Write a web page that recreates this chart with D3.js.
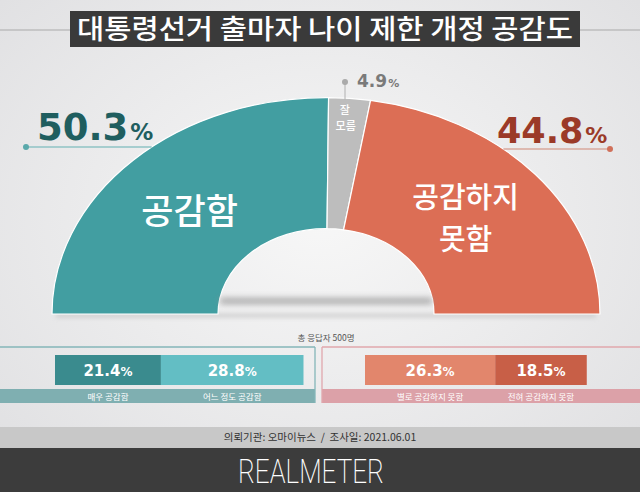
<!DOCTYPE html>
<html><head><meta charset="utf-8">
<script src="https://cdn.jsdelivr.net/npm/d3@7"></script>
<style>html,body{margin:0;padding:0;background:#ececec;}svg{display:block;}</style>
</head><body>
<script>
// ---- data ----
const titleText = "대통령선거 출마자 나이 제한 개정 공감도";
const mainCategories = ["공감함", "잘 모름", "공감하지 못함"];
const mainValues = [50.3, 4.9, 44.8];
const mainColors = ["#429ea1", "#bdbdbd", "#dc6e55"];
const agreeCategories = ["매우 공감함", "어느 정도 공감함"];
const agreeValues = [21.4, 28.8];
const agreeColors = ["#3a8b8e", "#63bec4"];
const disagreeCategories = ["별로 공감하지 못함", "전혀 공감하지 못함"];
const disagreeValues = [26.3, 18.5];
const disagreeColors = ["#e2866c", "#c85f47"];
const respondentNote = "총 응답자 500명";
const sourceNote = "의뢰기관: 오마이뉴스  /  조사일: 2021.06.01";
const brand = "REALMETER";

const W = 640, H = 492;
const svg = d3.select("body").append("svg").attr("width", W).attr("height", H);
const defs = svg.append("defs");
const rg = defs.append("radialGradient").attr("id", "bg").attr("cx", "50%").attr("cy", "45%").attr("r", "70%");
rg.append("stop").attr("offset", "0%").attr("stop-color", "#f7f7f7");
rg.append("stop").attr("offset", "100%").attr("stop-color", "#e0e0e2");
defs.append("filter").attr("id", "blur").attr("x", "-20%").attr("y", "-200%").attr("width", "140%").attr("height", "500%")
  .append("feGaussianBlur").attr("stdDeviation", 3);
defs.append("filter").attr("id", "blur2").attr("x", "-20%").attr("y", "-200%").attr("width", "140%").attr("height", "500%")
  .append("feGaussianBlur").attr("stdDeviation", 2);

svg.append("rect").attr("width", W).attr("height", H).attr("fill", "url(#bg)");

// ---- title ----
svg.append("line").attr("x1", 0).attr("x2", W).attr("y1", 30).attr("y2", 30).attr("stroke", "#a9a9a9").attr("stroke-width", 1.2);
svg.append("rect").attr("x", 70).attr("y", 11).attr("width", 510).attr("height", 36).attr("fill", "#3a3a3a");
svg.append("text").attr("x", 325).attr("y", 39).attr("text-anchor", "middle")
  .attr("font-family", "'Noto Sans CJK KR'").attr("font-size", 27).attr("font-weight", 500)
  .attr("fill", "#ffffff").attr("textLength", 496).attr("lengthAdjust", "spacingAndGlyphs").text(titleText);

// ---- half doughnut ----
const cx = 326, cy = 314, rOuter = 274, rInner = 108, yScale = 0.79;
const pie = d3.pie().sort(null).startAngle(-Math.PI / 2).endAngle(Math.PI / 2);
const arcs = pie(mainValues);
const arc = d3.arc().innerRadius(rInner).outerRadius(rOuter);

// floor shadow under the doughnut
svg.append("rect").attr("x", cx - rOuter + 4).attr("y", cy - 1).attr("width", 2 * rOuter - 8).attr("height", 5)
  .attr("fill", "#bbbbbb").attr("opacity", 0.5).attr("filter", "url(#blur2)");

const g = svg.append("g").attr("transform", `translate(${cx},${cy}) scale(1,${yScale})`);
g.selectAll("path").data(arcs).join("path")
  .attr("d", arc)
  .attr("fill", (d, i) => mainColors[i])
  .attr("stroke", "#ffffff").attr("stroke-width", 1.2).attr("vector-effect", "non-scaling-stroke");

// inner hole shadow
svg.append("rect").attr("x", cx - rInner + 2).attr("y", cy - 16).attr("width", 2 * rInner - 4).attr("height", 6)
  .attr("fill", "#8f8f8f").attr("opacity", 0.75).attr("filter", "url(#blur)");

function pt(angle, r) {
  return [cx + r * Math.sin(angle), cy - r * Math.cos(angle) * yScale];
}
function edgeXAtY(y, side) {
  const dy = (cy - y) / (rOuter * yScale);
  return cx + side * rOuter * Math.sqrt(1 - dy * dy);
}
const rMid = (rOuter + rInner) / 2;
const kr = "'Noto Sans CJK KR'";
const num = "'DejaVu Sans'";

// 공감함 label
const c0 = pt((arcs[0].startAngle + arcs[0].endAngle) / 2, rMid);
svg.append("text").attr("x", c0[0] - 2).attr("y", c0[1] + 17).attr("text-anchor", "middle")
  .attr("font-family", kr).attr("font-size", 35).attr("font-weight", 500).attr("fill", "#fff").text(mainCategories[0]);

// 공감하지 못함 label (two lines)
const c2 = pt((arcs[2].startAngle + arcs[2].endAngle) / 2, rMid);
svg.append("text").attr("x", c2[0] - 6).attr("y", c2[1] - 8).attr("text-anchor", "middle").attr("font-family", kr)
  .attr("font-size", 29).attr("font-weight", 500).attr("fill", "#fff").text("공감하지");
svg.append("text").attr("x", c2[0] - 6).attr("y", c2[1] + 34).attr("text-anchor", "middle").attr("font-family", kr)
  .attr("font-size", 29).attr("font-weight", 500).attr("fill", "#fff").text("못함");

// 잘 모름 label (two lines)
const c1 = pt((arcs[1].startAngle + arcs[1].endAngle) / 2, rOuter - 22);
svg.append("text").attr("x", c1[0] - 3).attr("y", c1[1] - 2).attr("text-anchor", "middle").attr("font-family", kr)
  .attr("font-size", 11).attr("font-weight", 500).attr("fill", "#fff").text("잘");
svg.append("text").attr("x", c1[0] - 2).attr("y", c1[1] + 14.5).attr("text-anchor", "middle").attr("font-family", kr)
  .attr("font-size", 11).attr("font-weight", 500).attr("fill", "#fff").text("모름");

// 50.3% callout
const yL = 147;
svg.append("line").attr("x1", 26).attr("x2", edgeXAtY(yL, -1)).attr("y1", yL).attr("y2", yL).attr("stroke", "#8fc3c5").attr("stroke-width", 1.3);
svg.append("circle").attr("cx", 26).attr("cy", yL).attr("r", 3).attr("fill", "#5aa9ab");
const l0 = svg.append("text").attr("x", 37).attr("y", 140).attr("font-family", num).attr("font-weight", "bold").attr("fill", "#1f5e5f");
l0.append("tspan").attr("font-size", 37).text(d3.format(".1f")(mainValues[0]));
l0.append("tspan").attr("font-size", 23).attr("dx", 2).text("%");

// 44.8% callout
const yR = 149;
svg.append("line").attr("x1", edgeXAtY(yR, 1)).attr("x2", 610).attr("y1", yR).attr("y2", yR).attr("stroke", "#d8a89d").attr("stroke-width", 1.3);
svg.append("circle").attr("cx", 610).attr("cy", yR).attr("r", 3).attr("fill", "#d0705a");
const l2 = svg.append("text").attr("x", 497).attr("y", 143).attr("font-family", num).attr("font-weight", "bold").attr("fill", "#9b3a28");
l2.append("tspan").attr("font-size", 35).text(d3.format(".1f")(mainValues[2]));
l2.append("tspan").attr("font-size", 22).attr("dx", 2).text("%");

// 4.9% callout
const topY = cy - rOuter * yScale;
svg.append("line").attr("x1", 345).attr("x2", 345).attr("y1", 82).attr("y2", topY + 2).attr("stroke", "#b0b0b0").attr("stroke-width", 1);
svg.append("circle").attr("cx", 345).attr("cy", 82).attr("r", 3).attr("fill", "#aaaaaa");
const l1 = svg.append("text").attr("x", 357).attr("y", 87).attr("font-family", num).attr("font-weight", "bold").attr("fill", "#7a7a7a");
l1.append("tspan").attr("font-size", 17).text(d3.format(".1f")(mainValues[1]));
l1.append("tspan").attr("font-size", 11).attr("dx", 1).text("%");

// respondents note
svg.append("text").attr("x", 326).attr("y", 341).attr("text-anchor", "middle").attr("font-family", kr)
  .attr("font-size", 8.5).attr("fill", "#555").text(respondentNote);

// ---- bottom breakdown bars ----
const pxScale = d3.scaleLinear().domain([0, 100]).range([0, 495]);
const barY = 355, barH = 30, bandY = 389, bandH = 14;

function panel(x0, x1, innerSide, borderColor, bandColor) {
  svg.append("rect").attr("x", x0).attr("y", bandY).attr("width", x1 - x0).attr("height", bandH).attr("fill", bandColor);
  svg.append("line").attr("x1", x0).attr("x2", x1).attr("y1", 347).attr("y2", 347).attr("stroke", borderColor).attr("stroke-width", 1.3);
  const vx = innerSide === "right" ? x1 : x0;
  svg.append("line").attr("x1", vx).attr("x2", vx).attr("y1", 347).attr("y2", bandY + bandH).attr("stroke", borderColor).attr("stroke-width", 1.3);
}
panel(0, 315, "right", "#84b6b8", "#7fafb1");
panel(322, 640, "left", "#e1a7ad", "#dca1a8");

function bars(startX, values, cats, colors) {
  let acc = 0;
  values.forEach((v, i) => {
    const x = startX + pxScale(acc), w = pxScale(v);
    svg.append("rect").attr("x", x).attr("y", barY).attr("width", w).attr("height", barH).attr("fill", colors[i]);
    const t = svg.append("text").attr("x", x + w / 2).attr("y", barY + 21).attr("text-anchor", "middle")
      .attr("font-family", num).attr("font-weight", "bold").attr("fill", "#fff");
    t.append("tspan").attr("font-size", 15).text(d3.format(".1f")(v));
    t.append("tspan").attr("font-size", 12).text("%");
    svg.append("text").attr("x", x + w / 2).attr("y", bandY + 10.5).attr("text-anchor", "middle")
      .attr("font-family", kr).attr("font-size", 8.5).attr("fill", "#fff").text(cats[i]);
    acc += v;
  });
}
bars(55, agreeValues, agreeCategories, agreeColors);
bars(365, disagreeValues, disagreeCategories, disagreeColors);

// ---- footer ----
svg.append("rect").attr("x", 0).attr("y", 427).attr("width", W).attr("height", 21).attr("fill", "#c8c8c8");
svg.append("text").attr("x", 320).attr("y", 441).attr("text-anchor", "middle").attr("font-family", kr)
  .attr("font-size", 10.5).attr("fill", "#333").attr("xml:space", "preserve").text(sourceNote);
svg.append("rect").attr("x", 0).attr("y", 448).attr("width", W).attr("height", H - 448).attr("fill", "#3c3c3c");
svg.append("text").attr("x", 311).attr("y", 483).attr("text-anchor", "middle")
  .attr("font-family", "Roboto").attr("font-size", 33).attr("font-weight", 200)
  .attr("fill", "#fff").attr("textLength", 146).attr("lengthAdjust", "spacingAndGlyphs").text(brand);
</script>
</body></html>
